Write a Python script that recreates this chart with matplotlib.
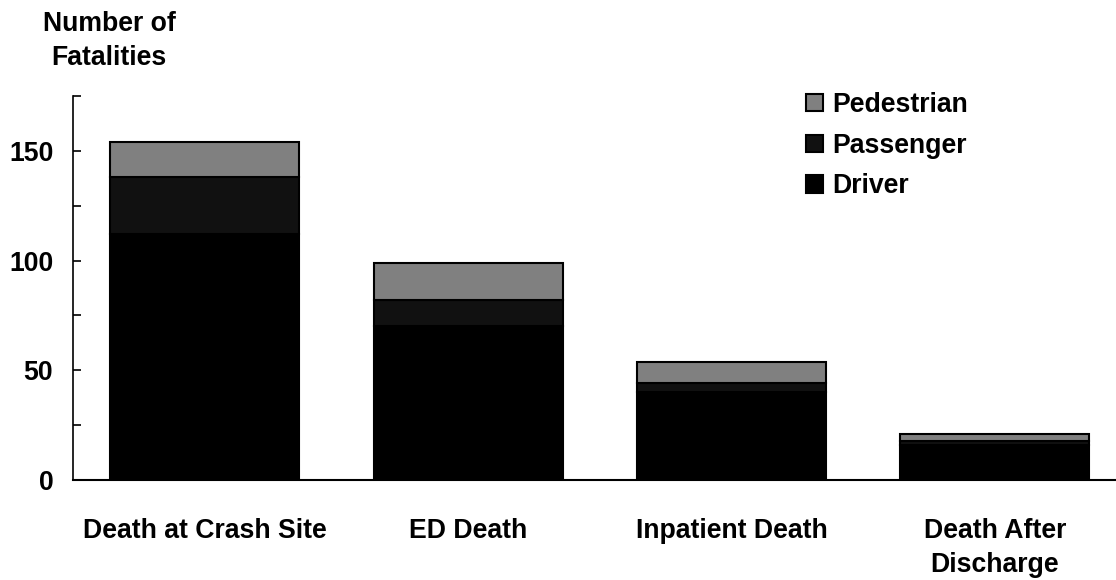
import matplotlib
matplotlib.use("Agg")
import matplotlib.pyplot as plt
import numpy as np

categories = ["Death at Crash Site", "ED Death", "Inpatient Death", "Death After\nDischarge"]
driver = [112, 70, 40, 16]
passenger = [26, 12, 4, 2]
pedestrian = [16, 17, 10, 3]

plt.rcParams['font.family'] = ['Liberation Sans', 'DejaVu Sans']
plt.rcParams['font.weight'] = 'bold'
FS = 19.2

fig = plt.figure(figsize=(11.16, 5.8), dpi=100)
ax = fig.add_axes([72.7/1116, 1-480/580, (1116-72.7)/1116, (480-96)/580])

x = np.arange(len(categories))
w = 0.718
b1 = ax.bar(x, driver, w, color='#000000', edgecolor='black', linewidth=1.5, label='Driver')
b2 = ax.bar(x, passenger, w, bottom=driver, color='#111111', edgecolor='black', linewidth=1.5, label='Passenger')
bottom3 = np.array(driver) + np.array(passenger)
b3 = ax.bar(x, pedestrian, w, bottom=bottom3, color='#808080', edgecolor='black', linewidth=1.5, label='Pedestrian')

ax.set_xlim(-0.502, 3.46)
ax.set_ylim(0, 175)
ax.set_yticks(np.arange(0, 176, 25))
ax.set_yticklabels([str(v) if v % 50 == 0 and v <= 150 else '' for v in range(0, 176, 25)])
ax.tick_params(axis='y', direction='in', length=6, width=1.2, pad=14, labelsize=FS)
ax.set_xticks(x)
ax.set_xticklabels(categories, fontsize=FS, fontweight='bold', linespacing=1.4)
ax.tick_params(axis='x', length=0, pad=27)
for lab in ax.get_yticklabels():
    lab.set_fontweight('bold')

ax.spines['top'].set_visible(False)
ax.spines['right'].set_visible(False)
ax.spines['left'].set_linewidth(1.2)
ax.spines['bottom'].set_linewidth(1.5)

leg = ax.legend(handles=[b3, b2, b1], labels=['Pedestrian', 'Passenger', 'Driver'],
                loc='upper left', bbox_to_anchor=(806/1116, 1-92/580), bbox_transform=fig.transFigure,
                frameon=False, fontsize=FS, handlelength=0.62, handleheight=0.62,
                handletextpad=0.35, labelspacing=0.55, borderpad=0, borderaxespad=0)
for t in leg.get_texts():
    t.set_fontweight('bold')

fig.text(109/1116, 1-11/580, "Number of\nFatalities", ha='center', va='top', fontsize=FS,
         fontweight='bold', linespacing=1.38)

fig.savefig("out.png", dpi=100)
